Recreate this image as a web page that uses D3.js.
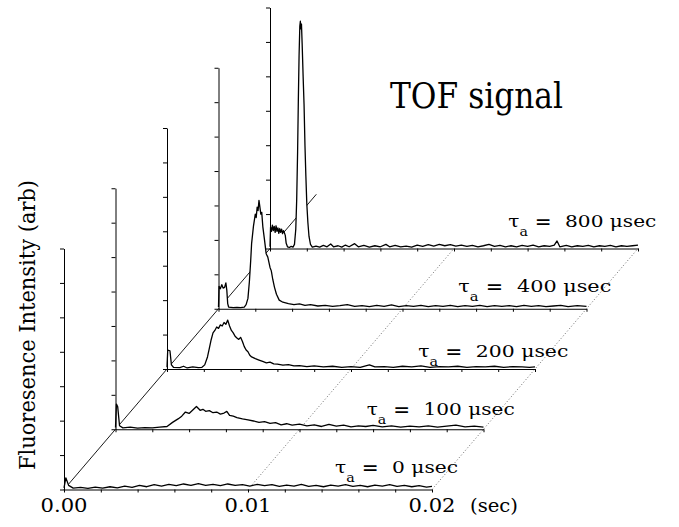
<!DOCTYPE html>
<html>
<head>
<meta charset="utf-8">
<script src="https://cdn.jsdelivr.net/npm/d3@7"></script>
<style>
  body { margin: 0; background: #fff; }
  svg { display: block; }
</style>
</head>
<body>
<svg id="chart" width="679" height="527"></svg>
<script>
// delay after ablation, front panel first
const delays = [0, 100, 200, 400, 800];

// TOF traces: [time (ms), intensity (tick units)]
const tof0 = [[0,0.05],[0.1,0.34],[0.25,0.12],[0.5,0.04],[0.9,0.06],[1.3,0.03],[1.7,0.07],[2.1,0.04],[2.5,0.08],[2.9,0.05],
  [3.3,0.1],[3.7,0.06],[4.1,0.12],[4.5,0.08],[4.9,0.14],[5.3,0.1],[5.7,0.15],[6.1,0.11],[6.5,0.16],[6.9,0.12],
  [7.3,0.17],[7.7,0.12],[8.1,0.15],[8.5,0.11],[8.9,0.16],[9.3,0.12],[9.7,0.14],[10.1,0.1],[10.5,0.15],[10.9,0.11],
  [11.3,0.14],[11.7,0.09],[12.1,0.13],[12.5,0.1],[12.9,0.15],[13.3,0.09],[13.7,0.12],[14.1,0.08],[14.5,0.13],[14.9,0.1],
  [15.3,0.14],[15.7,0.09],[16.1,0.12],[16.5,0.08],[16.9,0.13],[17.3,0.1],[17.7,0.14],[18.1,0.09],[18.5,0.12],[18.9,0.08],
  [19.3,0.11],[19.7,0.07],[20,0.09]];

const tof100 = [[0,0.05],[0.05,0.73],[0.12,0.65],[0.22,0.1],[0.4,0.04],[0.8,0.06],[1.2,0.03],[1.6,0.05],[2.0,0.04],[2.4,0.06],
  [2.8,0.08],[3.1,0.2],[3.4,0.3],[3.6,0.38],[3.8,0.5],[4.0,0.46],[4.2,0.56],[4.4,0.66],[4.6,0.55],[4.75,0.58],
  [4.9,0.52],[5.1,0.54],[5.3,0.48],[5.5,0.5],[5.7,0.44],[5.9,0.47],[6.05,0.52],[6.2,0.4],[6.4,0.38],[6.6,0.34],
  [6.9,0.3],[7.2,0.27],[7.5,0.24],[7.8,0.2],[8.1,0.22],[8.4,0.17],[8.7,0.19],[9.0,0.13],[9.3,0.16],[9.6,0.12],
  [10.0,0.15],[10.4,0.1],[10.8,0.13],[11.2,0.08],[11.6,0.14],[12.0,0.09],[12.4,0.12],[12.8,0.07],[13.2,0.1],[13.6,0.08],
  [14.0,0.11],[14.5,0.07],[15.0,0.1],[15.5,0.06],[16.0,0.09],[16.5,0.07],[17.0,0.1],[17.5,0.06],[18.0,0.09],[18.5,0.12],
  [19.0,0.07],[19.5,0.09],[20,0.06]];

const tof200 = [[0,0.05],[0.04,0.55],[0.16,0.53],[0.24,0.12],[0.35,0.05],[0.7,0.04],[0.9,0.08],[1.1,0.03],[1.4,0.06],[1.7,0.04],
  [1.9,0.05],[2.05,0.12],[2.2,0.35],[2.3,0.6],[2.4,0.85],[2.5,1.05],[2.6,1.12],[2.7,1.22],[2.8,1.18],[2.9,1.28],
  [3.0,1.25],[3.1,1.35],[3.2,1.3],[3.3,1.42],[3.4,1.25],[3.5,1.12],[3.6,1.05],[3.7,0.95],[3.8,0.9],[3.9,0.86],
  [4.0,0.92],[4.1,0.8],[4.2,0.65],[4.3,0.55],[4.4,0.5],[4.5,0.4],[4.6,0.35],[4.8,0.3],[5.0,0.26],[5.2,0.22],
  [5.4,0.18],[5.6,0.2],[5.8,0.15],[6.0,0.14],[6.3,0.11],[6.6,0.13],[6.9,0.09],[7.2,0.1],[7.6,0.07],[8.0,0.09],
  [8.5,0.06],[9.0,0.08],[9.5,0.05],[10.0,0.07],[10.5,0.05],[11.0,0.12],[11.3,0.06],[11.8,0.07],[12.3,0.05],[12.8,0.08],
  [13.3,0.06],[13.8,0.09],[14.3,0.05],[14.8,0.07],[15.3,0.06],[15.8,0.08],[16.3,0.05],[16.8,0.07],[17.3,0.06],[17.8,0.08],
  [18.3,0.05],[18.8,0.07],[19.3,0.06],[19.7,0.05],[20,0.06]];

const tof400 = [[0,0.05],[0.03,0.65],[0.1,0.58],[0.18,0.7],[0.25,0.6],[0.33,0.62],[0.4,0.75],[0.45,0.55],[0.5,0.15],[0.55,0.05],
  [0.8,0.03],[1.0,0.04],[1.2,0.03],[1.4,0.05],[1.5,0.12],[1.6,0.3],[1.68,0.8],[1.75,1.4],[1.8,1.9],[1.9,2.4],
  [2.0,2.75],[2.05,2.65],[2.1,2.95],[2.15,2.85],[2.2,3.15],[2.25,2.95],[2.3,2.75],[2.35,2.8],[2.41,2.38],[2.5,2.0],
  [2.59,1.6],[2.68,1.5],[2.8,1.2],[2.87,1.1],[2.95,0.85],[3.04,0.63],[3.15,0.42],[3.3,0.25],[3.5,0.19],[3.8,0.15],
  [4.1,0.12],[4.4,0.14],[4.7,0.1],[5.0,0.12],[5.4,0.08],[5.8,0.1],[6.2,0.07],[6.6,0.09],[7.0,0.12],[7.4,0.07],
  [7.8,0.09],[8.2,0.06],[8.6,0.1],[9.0,0.07],[9.4,0.11],[9.8,0.06],[10.2,0.09],[10.6,0.07],[11.0,0.1],[11.4,0.06],
  [11.8,0.09],[12.2,0.07],[12.6,0.1],[13.0,0.06],[13.4,0.09],[13.8,0.07],[14.2,0.1],[14.6,0.06],[15.0,0.09],[15.4,0.07],
  [15.8,0.09],[16.2,0.06],[16.6,0.1],[17.0,0.07],[17.4,0.09],[17.8,0.06],[18.2,0.08],[18.6,0.1],[19.0,0.06],[19.5,0.09],
  [20,0.07]];

const tof800 = [[0,0.05],[0.03,0.62],[0.08,0.5],[0.13,0.68],[0.18,0.52],[0.23,0.64],[0.28,0.47],[0.33,0.66],[0.38,0.5],[0.43,0.6],
  [0.48,0.44],[0.53,0.58],[0.58,0.47],[0.63,0.56],[0.68,0.43],[0.73,0.52],[0.78,0.46],[0.83,0.38],[0.88,0.15],[0.95,0.05],
  [1.05,0.03],[1.15,0.06],[1.25,0.04],[1.33,0.12],[1.4,0.55],[1.45,1.4],[1.5,2.8],[1.54,4.3],[1.58,5.6],[1.62,6.45],
  [1.65,6.6],[1.68,6.38],[1.71,6.52],[1.75,5.9],[1.8,5.0],[1.85,4.2],[1.9,3.0],[1.95,2.1],[2.0,1.3],[2.06,0.75],
  [2.12,0.35],[2.2,0.12],[2.3,0.04],[2.5,0.07],[2.7,0.04],[2.9,0.09],[3.1,0.05],[3.3,0.13],[3.45,0.05],[3.7,0.08],
  [3.9,0.04],[4.1,0.1],[4.3,0.05],[4.6,0.14],[4.8,0.05],[5.1,0.09],[5.4,0.04],[5.7,0.08],[6.0,0.05],[6.3,0.12],
  [6.5,0.05],[6.8,0.09],[7.1,0.05],[7.4,0.07],[7.7,0.04],[8.0,0.1],[8.3,0.06],[8.6,0.11],[8.9,0.07],[9.2,0.12],
  [9.5,0.08],[9.8,0.11],[10.1,0.07],[10.4,0.1],[10.7,0.06],[11.0,0.09],[11.3,0.05],[11.6,0.08],[11.9,0.12],[12.2,0.06],
  [12.5,0.09],[12.8,0.05],[13.1,0.08],[13.4,0.05],[13.7,0.09],[14.0,0.06],[14.3,0.1],[14.6,0.05],[14.9,0.08],[15.2,0.06],
  [15.45,0.1],[15.6,0.22],[15.75,0.05],[16.1,0.09],[16.4,0.05],[16.7,0.08],[17.0,0.06],[17.3,0.09],[17.6,0.05],[17.9,0.08],
  [18.2,0.06],[18.5,0.09],[18.8,0.05],[19.1,0.08],[19.4,0.06],[19.7,0.08],[20,0.1]];

const traces = [tof0, tof100, tof200, tof400, tof800];

const xTickValues = [0, 0.01, 0.02];
const xTickLabels = ['0.00', '0.01', '0.02'];
const yTickValues = [0, 1, 2, 3, 4, 5, 6, 7];
const xUnitLabel = '(sec)';
const yTitle = 'Fluoresence Intensity (arb)';
const chartTitle = 'TOF signal';

// ---- layout ----
const svg = d3.select('#chart');
const serif = 'DejaVu Serif';
const origin = { x: 64, y: 489.5 };          // front panel origin
const x = d3.scaleLinear().domain([0, 0.02]).range([0, 368]);
const y = d3.scaleLinear().domain([0, 7]).range([0, -241]);
// depth: panel index -> offset of its origin
const depthX = d3.scaleLinear().domain([0, 4]).range([0, 206]);
const depthY = d3.scaleLinear().domain([0, 4]).range([0, -241]);
const depthAxisEnd = 4.9;

// label placement relative to each panel's right end, and text widths
const labelOffset = [[-97, -16.5], [-116.8, -14.5], [-116.7, -12.3], [-128.2, -16.5], [-129.7, -21.5]];
const labelWidth = [123, 148, 150, 153, 148];

const px = (t, i) => origin.x + depthX(i) + x(t);
const py = (v, i) => origin.y + depthY(i) + y(v);

// depth guide lines (drawn first, panels hide them)
const guides = svg.append('g').attr('class', 'guides');
guides.append('line')
  .attr('x1', px(0, 0)).attr('y1', py(0, 0))
  .attr('x2', px(0, depthAxisEnd)).attr('y2', py(0, depthAxisEnd))
  .attr('stroke', '#000').attr('stroke-width', 0.9);
guides.selectAll('line.dot')
  .data(xTickValues.slice(1))
  .enter().append('line')
  .attr('class', 'dot')
  .attr('x1', d => px(d, 0)).attr('y1', py(0, 0))
  .attr('x2', d => px(d, 4)).attr('y2', py(0, 4))
  .attr('stroke', '#444').attr('stroke-width', 0.8)
  .attr('stroke-dasharray', '1,2.2');

const area = d3.area()
  .x(d => x(d[0] / 1000))
  .y0(y(0))
  .y1(d => y(d[1]));
const line = d3.line()
  .x(d => x(d[0] / 1000))
  .y(d => y(d[1]));

const xAxis = d3.axisBottom(x)
  .tickValues(d3.range(11).map(k => k * 0.002))
  .tickSize(3).tickSizeOuter(0).tickFormat('');
const yAxis = d3.axisLeft(y)
  .tickValues(yTickValues)
  .tickSize(4).tickSizeOuter(0).tickFormat('');

// back to front
const order = d3.range(traces.length).reverse();
order.forEach(i => {
  const g = svg.append('g')
    .attr('transform', `translate(${origin.x + depthX(i)},${origin.y + depthY(i)})`);

  g.append('path').datum(traces[i])
    .attr('d', area)
    .attr('fill', '#fff');

  g.append('g').call(xAxis)
    .call(a => a.selectAll('path,line').attr('stroke', '#000').attr('stroke-width', 1));
  g.append('g').call(yAxis)
    .call(a => a.selectAll('path,line').attr('stroke', '#000').attr('stroke-width', 1));

  g.append('path').datum(traces[i])
    .attr('d', line)
    .attr('fill', 'none')
    .attr('stroke', '#000')
    .attr('stroke-width', 1.3)
    .attr('stroke-linejoin', 'round');

  // delay label
  const lbl = g.append('text')
    .attr('font-family', serif)
    .attr('x', x(0.02) + labelOffset[i][0])
    .attr('y', labelOffset[i][1])
    .attr('font-size', 17)
    .attr('textLength', labelWidth[i])
    .attr('lengthAdjust', 'spacingAndGlyphs');
  lbl.append('tspan').text('τ');
  lbl.append('tspan').attr('dy', 9).attr('font-size', 12).text('a');
  lbl.append('tspan').attr('dy', -9).attr('font-weight', 'bold').text(' = ');
  lbl.append('tspan').text('\u00a0' + delays[i] + ' μsec');
});

// tick labels under the front panel
const tickG = svg.append('g').attr('font-size', 19).attr('font-family', serif);
tickG.selectAll('text.tick')
  .data(xTickValues)
  .enter().append('text')
  .attr('class', 'tick')
  .attr('x', d => px(d, 0) - 23.5)
  .attr('y', origin.y + 22)
  .attr('textLength', 47)
  .attr('lengthAdjust', 'spacingAndGlyphs')
  .text((d, k) => xTickLabels[k]);
tickG.append('text')
  .attr('x', px(0.02, 0) + 38)
  .attr('y', origin.y + 22)
  .attr('textLength', 48)
  .attr('lengthAdjust', 'spacingAndGlyphs')
  .text(xUnitLabel);

// y title
svg.append('text')
  .attr('font-family', serif)
  .attr('transform', 'translate(35,470) rotate(-90)')
  .attr('font-size', 22)
  .attr('textLength', 290)
  .attr('lengthAdjust', 'spacingAndGlyphs')
  .text(yTitle);

// chart title
svg.append('text')
  .attr('font-family', serif)
  .attr('x', 390)
  .attr('y', 108)
  .attr('font-size', 35)
  .attr('textLength', 173)
  .attr('lengthAdjust', 'spacingAndGlyphs')
  .text(chartTitle);
</script>
</body>
</html>
